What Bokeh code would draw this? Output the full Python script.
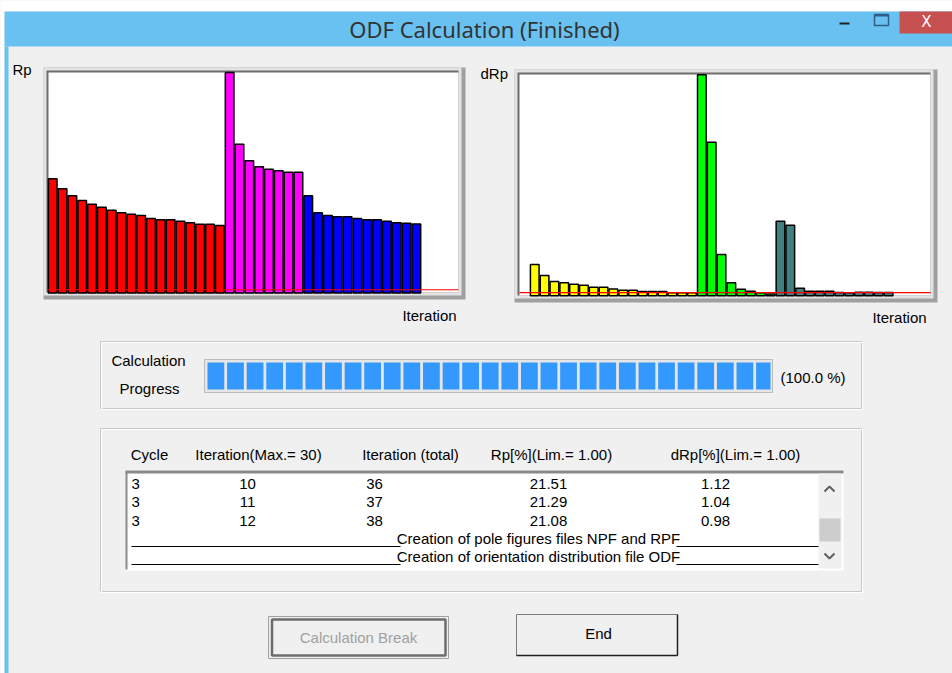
import numpy as np
from bokeh.plotting import figure
from bokeh.models import Range1d
from bokeh.core.properties import value
from bokeh.embed import file_html
from bokeh.resources import INLINE

# ---------------- data ----------------
TITLE = "ODF Calculation (Finished)"
# Rp per iteration, one list per cycle (iterations 1..38)
rp_cycle1 = [34.9, 31.9, 29.7, 28.3, 27.1, 26.2, 25.3, 24.5, 24.1, 23.7, 22.8, 22.4,
             22.4, 21.9, 21.5, 21.0, 21.0, 20.6]
rp_cycle2 = [67.4, 45.5, 40.4, 38.6, 37.8, 37.4, 36.9, 36.9]
rp_cycle3 = [29.7, 24.5, 23.7, 23.3, 23.3, 22.8, 22.4, 22.4, 21.9, 21.51, 21.29, 21.08]
# dRp per iteration (iterations 2..38)
drp_cycle1 = [9.6, 6.2, 4.4, 4.0, 3.5, 3.2, 2.6, 2.6, 2.1, 1.7, 1.7, 1.3, 1.3, 1.3,
              0.9, 0.9, 0.9]
drp_cycle2 = [67.6, 47.0, 12.6, 4.0, 2.0, 1.4, 0.9, 0.55]
drp_cycle3 = [22.8, 21.6, 2.3, 1.4, 1.4, 1.4, 1.0, 0.95, 1.05, 1.12, 1.04, 0.98]
RP_COLORS = ["#ff0000", "#ff00ff", "#0000ff"]
DRP_COLORS = ["#ffff00", "#00ff00", "#408080"]
RP_LIMIT = 1.00
DRP_LIMIT = 1.00
PROGRESS = 100.0

HEADERS = ["Cycle", "Iteration(Max.= 30)", "Iteration (total)", "Rp[%](Lim.= 1.00)",
           "dRp[%](Lim.= 1.00)"]
row_cycle = ["3", "3", "3"]
row_iter = ["10", "11", "12"]
row_total = ["36", "37", "38"]
row_rp = ["21.51", "21.29", "21.08"]
row_drp = ["1.12", "1.04", "0.98"]
MESSAGES = ["Creation of pole figures files NPF and RPF",
            "Creation of orientation distribution file ODF"]

# ---------------- figure (screen-like coordinates) ----------------
X0, X1, Y0, Y1 = 0, 952, 0, 673
p = figure(width=X1 - X0, height=Y1 - Y0, x_range=Range1d(X0, X1), y_range=Range1d(Y1, Y0),
           x_axis_location=None, y_axis_location=None, tools="", toolbar_location=None,
           output_backend="svg", min_border=0, background_fill_color="#f0f0f0",
           border_fill_color="#f0f0f0", outline_line_color=None)
p.grid.visible = False

UI = "Liberation Sans"
FS = "15px"


def lin_x(pa, va, pb, vb):
    k = (vb - va) / (pb - pa)
    return Range1d(start=va + (X0 - pa) * k, end=va + (X1 - pa) * k)


def lin_y(pa, va, pb, vb):
    k = (vb - va) / (pb - pa)
    return Range1d(start=va + (Y1 - pa) * k, end=va + (Y0 - pa) * k)


def label(xs, ys, texts, size=FS, align="left", color="#000000", font=UI):
    p.text(x=xs, y=ys, text=texts, text_font=value(font), text_font_size=size,
           text_align=align, text_baseline="middle", text_color=color)


def box(l, r, t, b, fill=None, line=None, lw=1):
    p.quad(left=[l], right=[r], top=[t], bottom=[b], fill_color=fill,
           line_color=line, line_width=lw)


# ---------------- window chrome ----------------
box(0, 952, 0, 11, fill="#ffffff")
box(0, 4, 0, 673, fill="#ffffff")
box(4, 952, 11, 46, fill="#68c1f0")
box(4, 8, 46, 673, fill="#68c1f0")
box(899, 952, 11, 33, fill="#c75050")
label([926], [21], ["X"], size="15px", align="center", color="#ffffff", font="DejaVu Sans")
box(874, 888, 14, 25, line="#2f5f85", lw=1.5)
p.segment(x0=[874], y0=[15], x1=[888], y1=[15], line_color="#2f5f85", line_width=2)
p.segment(x0=[839], y0=[23], x1=[849], y1=[23], line_color="#222222", line_width=2)
label([484], [28], [TITLE], size="22px", align="center", color="#333333", font="Noto Sans")

# ---------------- chart frames ----------------
for (ol, orr, ot, ob, lr, lb, dl, dt, wl, wr, wt, wb) in [
        (43, 465, 67, 299, 461, 295, 46, 70, 48, 458, 72, 292),
        (514, 937, 69, 302, 933, 298, 517, 72, 519, 930, 74, 295)]:
    box(ol, orr, ot, ob, fill="#a0a0a0")
    box(ol, lr, ot, lb, fill="#e3e3e3")
    box(dl, wr, dt, wb, fill="#6d6d6d")
    box(wl, wr, wt, wb, fill="#ffffff")

# chart ranges (data -> pixels)
p.extra_x_ranges = {
    "c1x": lin_x(47.3, 0.5, 420.8, 38.5),
    "c2x": lin_x(519.5, 0.5, 893.0, 38.5),
    "prog": lin_x(207, 0.0, 770, 100.0),
}
p.extra_y_ranges = {
    "c1y": lin_y(292.5, 0.0, 72.0, 67.4),
    "c2y": lin_y(295.3, 0.0, 74.0, 67.7),
}
X_SLOT_END = 42.27

rp_all = [rp_cycle1, rp_cycle2, rp_cycle3]
start = 1
for vals, col in zip(rp_all, RP_COLORS):
    it = np.arange(start, start + len(vals))
    p.vbar(x=it, top=vals, bottom=0, width=0.88, fill_color=col, line_color="#000000",
           line_width=1.5, x_range_name="c1x", y_range_name="c1y")
    start += len(vals)
p.segment(x0=[0.45], y0=[RP_LIMIT], x1=[X_SLOT_END], y1=[RP_LIMIT], line_color="#ff0000",
          line_width=1.2, x_range_name="c1x", y_range_name="c1y")

drp_all = [drp_cycle1, drp_cycle2, drp_cycle3]
start = 2
for vals, col in zip(drp_all, DRP_COLORS):
    it = np.arange(start, start + len(vals))
    p.vbar(x=it, top=vals, bottom=0, width=0.88, fill_color=col, line_color="#000000",
           line_width=1.5, x_range_name="c2x", y_range_name="c2y")
    start += len(vals)
p.segment(x0=[0.45], y0=[DRP_LIMIT], x1=[X_SLOT_END], y1=[DRP_LIMIT], line_color="#ff0000",
          line_width=1.2, x_range_name="c2x", y_range_name="c2y")

label([12], [69], ["Rp"])
label([480], [73], ["dRp"])
label([429, 899], [315, 317], ["Iteration", "Iteration"], align="center")

# ---------------- progress group ----------------
box(100, 861, 341, 408, line="#c8c8c8")
box(101, 862, 342, 409, line="#ffffff")
label([148, 149], [360, 388], ["Calculation", "Progress"], align="center")
box(204, 772, 359, 392, fill="#e6e6e6", line="#bcbcbc")
seg = 3.48
lefts = np.arange(0, PROGRESS, seg)
rights = np.minimum(lefts + 2.98, PROGRESS)
p.quad(left=lefts, right=rights, top=362, bottom=389, fill_color="#3399ff", line_color=None,
       x_range_name="prog")
label([780], [377], ["(%.1f %%)" % PROGRESS])

# ---------------- table group ----------------
box(100, 861, 428, 591, line="#c8c8c8")
box(101, 862, 429, 592, line="#ffffff")
label([149, 258, 410, 551, 735], [454] * 5, HEADERS, align="center")

box(125, 843, 470, 570, fill="#ffffff")
p.segment(x0=[125], y0=[471.5], x1=[843], y1=[471.5], line_color="#8a8a8a", line_width=3)
p.segment(x0=[126], y0=[471], x1=[126], y1=[569], line_color="#8a8a8a", line_width=2)
box(818, 841, 473, 568, fill="#f0f0f0")
box(819, 840, 518, 541, fill="#cdcdcd")
p.multi_line(xs=[[824, 829, 834], [824, 829, 834]], ys=[[491, 486, 491], [553, 558, 553]],
             line_color="#606060", line_width=2)

row_y = [483, 501.5, 520]
label([131] * 3, row_y, row_cycle)
label([247] * 3, row_y, row_iter, align="center")
label([374] * 3, row_y, row_total, align="center")
label([548] * 3, row_y, row_rp, align="center")
label([715] * 3, row_y, row_drp, align="center")
msg_y = [538, 556]
label([538, 538], msg_y, MESSAGES, align="center")
p.segment(x0=[131, 676, 131, 676], y0=[546, 546, 564, 564], x1=[400, 818, 400, 818],
          y1=[546, 546, 564, 564], line_color="#000000", line_width=1.2)

# ---------------- buttons ----------------
box(268, 448, 616, 658, fill="#f0f0f0", line="#a0a0a0")
box(271.5, 445, 619, 655, line="#6d6d6d", lw=2.5)
label([358], [637], ["Calculation Break"], color="#a0a0a0", align="center")
box(516, 677, 614, 655, fill="#f0f0f0", line="#7a7a7a")
p.segment(x0=[516, 677], y0=[655, 614], x1=[677, 677], y1=[655, 655], line_color="#222222",
          line_width=1.5)
label([598], [633], ["End"], align="center")

open("out.html", "w").write(file_html(p, INLINE))
